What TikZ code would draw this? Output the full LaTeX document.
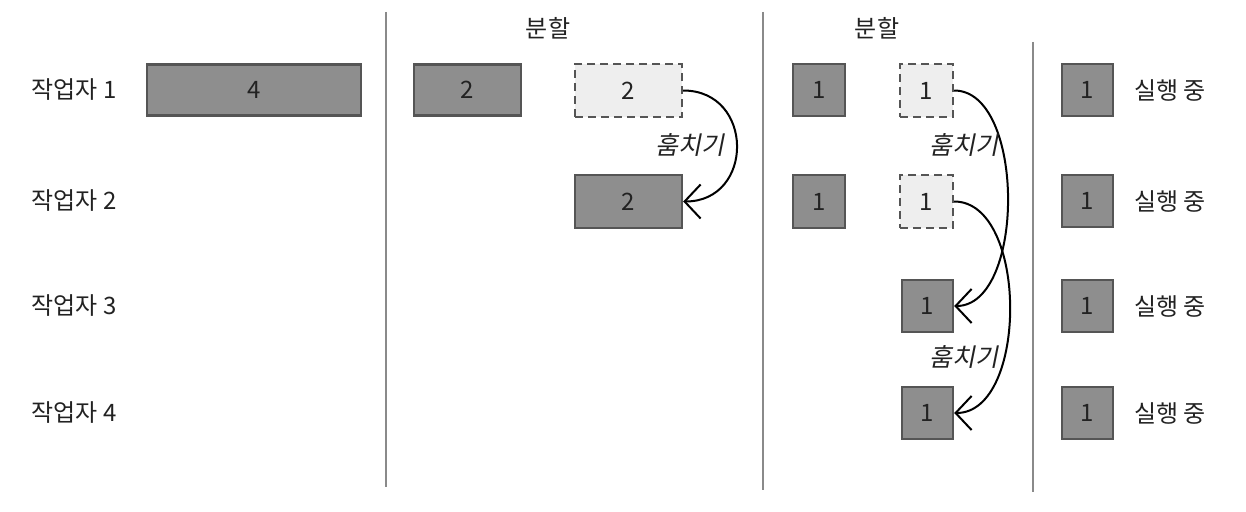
\documentclass[tikz,border=0pt]{standalone}
\usepackage{fontspec}
\setmainfont{Noto Sans CJK KR}
\newfontfamily\krslant[FakeSlant=0.2]{Noto Sans CJK KR}
\usetikzlibrary{arrows.meta}
\definecolor{boxfill}{HTML}{8E8E8E}
\definecolor{boxline}{HTML}{555555}
\definecolor{ghostfill}{HTML}{EEEEEE}
\definecolor{sepline}{HTML}{8A8A8A}
\definecolor{txt}{HTML}{222222}
\tikzset{
  lbl/.style={font=\fontsize{24}{28}\selectfont, text=txt, inner sep=0pt},
  task/.style={draw=boxline, line width=2.4pt, fill=boxfill, inner sep=0pt,
    font=\fontsize{24}{28}\selectfont, text=txt},
  ghost/.style={task, fill=ghostfill, dash pattern=on 8pt off 5pt},
  sep/.style={draw=sepline, line width=2pt},
  steal/.style={draw=black, line width=2pt, -{Straight Barb[length=16pt,width=34pt,line width=2pt]}},
  steallbl/.style={font=\krslant\fontsize{25}{29}\selectfont, text=txt, inner sep=0pt}
}
\begin{document}
\begin{tikzpicture}[x=1pt,y=-1pt]
\useasboundingbox (0,0) rectangle (1246,511);
% worker labels
\node[lbl] (w1) at (74,90) {작업자 1};
\node[lbl] (w2) at (74,201) {작업자 2};
\node[lbl] (w3) at (74,306) {작업자 3};
\node[lbl] (w4) at (74,413) {작업자 4};
% separators
\coordinate (s1a) at (386,12); \coordinate (s1b) at (386,487);
\coordinate (s2a) at (763,12); \coordinate (s2b) at (763,490);
\coordinate (s3a) at (1033,42); \coordinate (s3b) at (1033,492);
\draw[sep] (s1a) -- (s1b);
\draw[sep] (s2a) -- (s2b);
\draw[sep] (s3a) -- (s3b);
% split labels
\node[lbl] (sp1) at (548,28) {분할};
\node[lbl] (sp2) at (877,28) {분할};
% column 1
\node[task, minimum width=214pt, minimum height=51pt] (b4) at (254,90) {4};
% column 2
\node[task, minimum width=107pt, minimum height=51pt] (b2a) at (467.5,90) {2};
\node[ghost, minimum width=107pt, minimum height=53pt] (b2g) at (628.5,90.5) {2};
\node[task, minimum width=107pt, minimum height=53pt] (b2b) at (628.5,201.5) {2};
\draw[steal] (b2g.east) to[out=0,in=0,looseness=1.65] (b2b.east);
\node[steallbl] (st1) at (690,145) {훔치기};
% column 3
\node[task, minimum width=52pt, minimum height=52pt] (c1a) at (819,90) {1};
\node[ghost, minimum width=53pt, minimum height=53pt] (c1g) at (926.5,90.5) {1};
\node[task, minimum width=52pt, minimum height=53pt] (c2a) at (819,201.5) {1};
\node[ghost, minimum width=53pt, minimum height=53pt] (c2g) at (926.5,201.5) {1};
\node[task, minimum width=51pt, minimum height=52pt] (c3) at (927.5,306) {1};
\node[task, minimum width=51pt, minimum height=52pt] (c4) at (927.5,413) {1};
\draw[steal] (c1g.east) to[out=0,in=0,looseness=0.85] (c3.east);
\draw[steal] (c2g.east) to[out=0,in=0,looseness=0.9] (c4.east);
\node[steallbl] (st2) at (964,145) {훔치기};
\node[steallbl] (st3) at (964,357) {훔치기};
% column 4
\node[task, minimum width=51pt, minimum height=52pt] (d1) at (1087.5,90) {1};
\node[task, minimum width=51pt, minimum height=52pt] (d2) at (1087.5,201) {1};
\node[task, minimum width=51pt, minimum height=52pt] (d3) at (1087.5,306) {1};
\node[task, minimum width=51pt, minimum height=52pt] (d4) at (1087.5,413) {1};
\node[lbl] (r1) at (1170,90) {실행 중};
\node[lbl] (r2) at (1170,201) {실행 중};
\node[lbl] (r3) at (1170,306) {실행 중};
\node[lbl] (r4) at (1170,413) {실행 중};
\end{tikzpicture}
\end{document}
